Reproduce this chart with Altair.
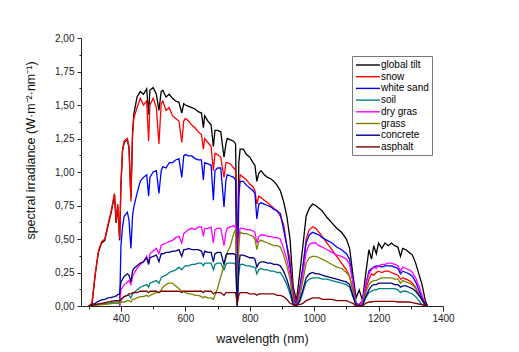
import altair as alt
import pandas as pd

wavelength = [
    300, 310, 320, 330, 340, 350, 360, 370, 380, 385,
    390, 396, 400, 405, 410, 420, 425, 431, 436, 440,
    450, 460, 470, 480, 486, 490, 500, 510, 518, 525,
    530, 540, 550, 560, 570, 580, 589, 595, 600, 610,
    620, 630, 640, 650, 656, 660, 670, 680, 687, 692,
    700, 710, 720, 726, 730, 740, 750, 756, 761, 766,
    770, 780, 790, 800, 810, 816, 822, 828, 835, 845,
    855, 865, 875, 885, 895, 905, 915, 925, 935, 945,
    955, 965, 975, 985, 995, 1005, 1015, 1025, 1040, 1055,
    1070, 1085, 1100, 1110, 1120, 1130, 1140, 1150, 1160, 1170,
    1178, 1185, 1193, 1200, 1210, 1220, 1230, 1240, 1250, 1260,
    1268, 1275, 1285, 1295, 1305, 1315, 1325, 1335, 1345, 1352]

global_tilt = [
    0.0, 0.01, 0.23, 0.4, 0.47, 0.49, 0.6, 0.7, 0.83, 0.62,
    0.75, 0.49, 0.9, 1.16, 1.22, 1.24, 1.18, 0.81, 1.29, 1.43,
    1.56, 1.6, 1.58, 1.62, 1.43, 1.61, 1.63, 1.58, 1.46, 1.6,
    1.61, 1.56, 1.58, 1.55, 1.53, 1.52, 1.44, 1.51, 1.5, 1.49,
    1.48, 1.47, 1.45, 1.44, 1.33, 1.42, 1.38, 1.35, 1.19, 1.31,
    1.31, 1.3, 1.11, 1.21, 1.25, 1.24, 1.23, 1.21, 0.24, 1.07,
    1.17, 1.17, 1.13, 1.11, 1.07, 1.05, 0.93, 0.99, 1.01, 0.98,
    0.96, 0.95, 0.93, 0.9, 0.86, 0.78, 0.67, 0.5, 0.14, 0.04,
    0.24, 0.45, 0.67, 0.73, 0.76, 0.75, 0.73, 0.71, 0.66, 0.62,
    0.58, 0.55, 0.5, 0.43, 0.24, 0.06, 0.12, 0.04, 0.24, 0.42,
    0.35, 0.45, 0.39, 0.47, 0.43, 0.47, 0.45, 0.47, 0.45, 0.44,
    0.37, 0.43, 0.42, 0.4, 0.38, 0.32, 0.24, 0.16, 0.04, 0.0]

snow = [
    0.0, 0.02, 0.24, 0.41, 0.48, 0.5, 0.61, 0.71, 0.84, 0.63,
    0.76, 0.5, 0.91, 1.17, 1.23, 1.25, 1.19, 0.78, 1.27, 1.4,
    1.48, 1.55, 1.5, 1.53, 1.23, 1.5, 1.55, 1.48, 1.21, 1.51,
    1.53, 1.46, 1.48, 1.42, 1.4, 1.38, 1.22, 1.38, 1.4, 1.38,
    1.35, 1.33, 1.3, 1.28, 1.17, 1.25, 1.22, 1.19, 1.01, 1.14,
    1.13, 1.11, 0.96, 1.07, 1.07, 1.06, 1.03, 1.01, 0.29, 0.86,
    0.98, 0.96, 0.94, 0.91, 0.89, 0.86, 0.76, 0.82, 0.81, 0.79,
    0.77, 0.75, 0.73, 0.71, 0.67, 0.61, 0.45, 0.35, 0.09, 0.02,
    0.14, 0.29, 0.5, 0.57, 0.59, 0.58, 0.55, 0.52, 0.47, 0.42,
    0.37, 0.32, 0.27, 0.22, 0.12, 0.01, 0.01, 0.02, 0.12, 0.2,
    0.24, 0.23, 0.25, 0.26, 0.25, 0.26, 0.26, 0.25, 0.24, 0.23,
    0.2, 0.21, 0.2, 0.19, 0.17, 0.14, 0.09, 0.04, 0.01, 0.0]

white_sand = [
    None, None, None, None, None, None, None, None, None, None,
    None, 0.0, 0.45, 0.59, 0.67, 0.7, 0.64, 0.43, 0.67, 0.74,
    0.84, 0.93, 0.96, 0.98, 0.82, 0.96, 1.0, 1.01, 0.84, 1.01,
    1.04, 1.03, 1.07, 1.07, 1.09, 1.1, 0.96, 1.12, 1.13, 1.12,
    1.12, 1.1, 1.09, 1.09, 0.94, 1.07, 1.06, 1.05, 0.79, 1.01,
    1.03, 1.03, 0.74, 0.94, 0.98, 0.97, 0.96, 0.94, 0.01, 0.81,
    0.93, 0.93, 0.9, 0.88, 0.86, 0.84, 0.65, 0.76, 0.77, 0.76,
    0.75, 0.74, 0.72, 0.71, 0.69, 0.57, 0.45, 0.29, 0.06, 0.01,
    0.12, 0.29, 0.47, 0.53, 0.55, 0.54, 0.53, 0.51, 0.49, 0.47,
    0.44, 0.42, 0.39, 0.35, 0.19, 0.02, 0.01, 0.04, 0.16, 0.26,
    0.28, 0.29, 0.3, 0.3, 0.29, 0.3, 0.3, 0.3, 0.29, 0.28,
    0.24, 0.26, 0.25, 0.24, 0.22, 0.18, 0.12, 0.06, 0.02, 0.0]

soil = [
    0.0, 0.005, 0.01, 0.01, 0.015, 0.02, 0.02, 0.025, 0.03, 0.03,
    0.03, 0.03, 0.04, 0.06, 0.07, 0.08, 0.08, 0.06, 0.09, 0.1,
    0.12, 0.14, 0.15, 0.16, 0.14, 0.17, 0.18, 0.19, 0.17, 0.21,
    0.22, 0.23, 0.25, 0.26, 0.27, 0.29, 0.27, 0.29, 0.3, 0.3,
    0.31, 0.31, 0.32, 0.32, 0.3, 0.32, 0.32, 0.32, 0.27, 0.31,
    0.32, 0.32, 0.27, 0.31, 0.32, 0.32, 0.32, 0.31, 0.0, 0.24,
    0.31, 0.31, 0.3, 0.3, 0.29, 0.29, 0.24, 0.27, 0.28, 0.27,
    0.27, 0.26, 0.26, 0.25, 0.25, 0.21, 0.16, 0.09, 0.01, 0.0,
    0.03, 0.1, 0.18, 0.2, 0.21, 0.21, 0.21, 0.2, 0.2, 0.19,
    0.18, 0.17, 0.16, 0.14, 0.07, 0.01, 0.0, 0.01, 0.06, 0.1,
    0.11, 0.12, 0.12, 0.13, 0.13, 0.13, 0.13, 0.13, 0.13, 0.12,
    0.1, 0.11, 0.11, 0.1, 0.09, 0.07, 0.04, 0.01, 0.0, 0.0]

dry_gras = [
    None, None, None, None, None, None, None, None, None, None,
    None, 0.0, 0.12, 0.14, 0.16, 0.18, 0.19, 0.16, 0.22, 0.24,
    0.28, 0.31, 0.33, 0.37, 0.32, 0.39, 0.41, 0.43, 0.39, 0.45,
    0.46, 0.47, 0.48, 0.49, 0.51, 0.52, 0.47, 0.54, 0.55, 0.57,
    0.58, 0.57, 0.59, 0.59, 0.52, 0.58, 0.58, 0.59, 0.47, 0.57,
    0.58, 0.58, 0.45, 0.55, 0.58, 0.59, 0.6, 0.59, 0.04, 0.5,
    0.58, 0.58, 0.57, 0.57, 0.56, 0.55, 0.47, 0.52, 0.53, 0.53,
    0.52, 0.52, 0.51, 0.51, 0.5, 0.43, 0.35, 0.24, 0.04, 0.0,
    0.1, 0.24, 0.4, 0.46, 0.47, 0.47, 0.45, 0.44, 0.42, 0.4,
    0.38, 0.37, 0.35, 0.31, 0.18, 0.01, 0.0, 0.04, 0.16, 0.24,
    0.27, 0.29, 0.28, 0.3, 0.31, 0.31, 0.32, 0.32, 0.31, 0.3,
    0.26, 0.29, 0.28, 0.27, 0.25, 0.21, 0.15, 0.08, 0.01, 0.0]

grass = [
    0.0, 0.002, 0.005, 0.008, 0.01, 0.012, 0.015, 0.018, 0.02, 0.02,
    0.02, 0.02, 0.03, 0.03, 0.03, 0.04, 0.04, 0.03, 0.05, 0.05,
    0.06, 0.07, 0.07, 0.08, 0.07, 0.08, 0.09, 0.1, 0.1, 0.12,
    0.14, 0.16, 0.17, 0.17, 0.15, 0.13, 0.11, 0.11, 0.1, 0.09,
    0.09, 0.08, 0.08, 0.07, 0.06, 0.07, 0.06, 0.06, 0.05, 0.08,
    0.13, 0.22, 0.3, 0.36, 0.4, 0.45, 0.54, 0.57, 0.0, 0.45,
    0.55, 0.54, 0.54, 0.53, 0.52, 0.5, 0.42, 0.48, 0.49, 0.48,
    0.47, 0.46, 0.45, 0.45, 0.44, 0.38, 0.3, 0.2, 0.03, 0.0,
    0.07, 0.19, 0.32, 0.36, 0.37, 0.37, 0.36, 0.35, 0.33, 0.31,
    0.29, 0.28, 0.25, 0.22, 0.12, 0.0, 0.0, 0.01, 0.1, 0.16,
    0.18, 0.19, 0.19, 0.2, 0.21, 0.21, 0.21, 0.21, 0.2, 0.2,
    0.17, 0.19, 0.18, 0.17, 0.16, 0.13, 0.09, 0.04, 0.0, 0.0]

concrete = [
    0.0, 0.01, 0.02, 0.035, 0.045, 0.05, 0.06, 0.065, 0.07, 0.075,
    0.085, 0.09, 0.18, 0.2, 0.22, 0.24, 0.23, 0.18, 0.26, 0.28,
    0.3, 0.32, 0.33, 0.36, 0.31, 0.36, 0.37, 0.38, 0.33, 0.39,
    0.39, 0.4, 0.4, 0.41, 0.41, 0.42, 0.37, 0.42, 0.42, 0.43,
    0.42, 0.42, 0.42, 0.41, 0.37, 0.41, 0.4, 0.4, 0.33, 0.39,
    0.4, 0.4, 0.31, 0.38, 0.39, 0.39, 0.39, 0.38, 0.0, 0.3,
    0.38, 0.38, 0.37, 0.36, 0.36, 0.35, 0.29, 0.32, 0.33, 0.33,
    0.32, 0.32, 0.31, 0.31, 0.3, 0.26, 0.2, 0.12, 0.01, 0.0,
    0.04, 0.12, 0.21, 0.24, 0.25, 0.24, 0.24, 0.23, 0.22, 0.21,
    0.2, 0.19, 0.18, 0.16, 0.08, 0.0, 0.0, 0.0, 0.07, 0.12,
    0.15, 0.16, 0.16, 0.17, 0.17, 0.17, 0.17, 0.17, 0.16, 0.16,
    0.14, 0.15, 0.15, 0.14, 0.13, 0.11, 0.08, 0.05, 0.01, 0.0]

asphalt = [
    0.0, 0.005, 0.01, 0.015, 0.02, 0.025, 0.03, 0.035, 0.04, 0.04,
    0.04, 0.04, 0.05, 0.06, 0.07, 0.08, 0.09, 0.09, 0.1, 0.1,
    0.1, 0.11, 0.11, 0.11, 0.1, 0.11, 0.11, 0.11, 0.1, 0.11,
    0.11, 0.11, 0.11, 0.11, 0.11, 0.11, 0.1, 0.11, 0.11, 0.11,
    0.11, 0.11, 0.11, 0.11, 0.1, 0.11, 0.11, 0.11, 0.09, 0.1,
    0.1, 0.1, 0.08, 0.1, 0.1, 0.1, 0.1, 0.1, 0.02, 0.08,
    0.1, 0.1, 0.1, 0.09, 0.09, 0.09, 0.08, 0.09, 0.09, 0.09,
    0.09, 0.09, 0.09, 0.08, 0.08, 0.07, 0.05, 0.02, 0.01, 0.01,
    0.01, 0.02, 0.04, 0.05, 0.06, 0.06, 0.06, 0.05, 0.05, 0.05,
    0.04, 0.04, 0.04, 0.03, 0.02, 0.0, 0.0, 0.0, 0.02, 0.03,
    0.03, 0.035, 0.035, 0.035, 0.035, 0.035, 0.035, 0.035, 0.035, 0.03,
    0.03, 0.03, 0.03, 0.03, 0.025, 0.02, 0.015, 0.01, 0.005, 0.0]

series_names = ["global tilt", "snow", "white sand", "soil",
                "dry gras", "grass", "concrete", "asphalt"]
series_colors = ["#000000", "#ff0000", "#0000ff", "#008080",
                 "#ff00ff", "#808000", "#000080", "#800000"]
series_values = [global_tilt, snow, white_sand, soil,
                 dry_gras, grass, concrete, asphalt]

x_ticks = list(range(300, 1401, 100))
y_ticks = [i * 0.125 for i in range(17)]

for vals in series_values:
    assert len(vals) == len(wavelength), len(vals)

rows = []
for name, vals in zip(series_names, series_values):
    for w, v in zip(wavelength, vals):
        if v is not None:
            rows.append({"wavelength": w, "irradiance": v, "series": name})
df = pd.DataFrame(rows)

FONT = "Liberation Sans"
AX = "#222222"

x_axis = alt.Axis(
    values=x_ticks,
    labelExpr="datum.value % 200 === 0 ? datum.value : ''",
    tickSize={"condition": {"test": "datum.value % 200 === 0", "value": 5}, "value": 3},
    title="wavelength (nm)",
    titleFont=FONT, titleFontSize=12.5, titleFontWeight="normal", titleColor="#111111",
    titlePadding=9,
    labelFont=FONT, labelFontSize=10, labelColor=AX, labelPadding=2,
    labelFlush=False, labelOverlap=False,
    domainColor=AX, tickColor=AX, grid=False,
)

y_axis = alt.Axis(
    values=y_ticks,
    labelExpr="abs(datum.value * 4 - round(datum.value * 4)) < 0.001 ? replace(format(datum.value, '.2f'), '.', ',') : ''",
    tickSize={"condition": {"test": "abs(datum.value * 4 - round(datum.value * 4)) < 0.001", "value": 4}, "value": 2},
    title="spectral irradiance (W·m⁻²·nm⁻¹)",
    titleFont=FONT, titleFontSize=12.5, titleFontWeight="normal", titleColor="#111111",
    titleAngle=270, titleAlign="center", titleBaseline="middle",
    titleX=-51, titleY=112,
    labelFont=FONT, labelFontSize=10, labelColor=AX, labelPadding=3,
    labelFlush=False, labelOverlap=False,
    domainColor=AX, tickColor=AX, grid=False,
)

legend = alt.Legend(
    title=None, orient="none", legendX=271, legendY=18,
    symbolType="M-1,0H3.8", symbolSize=100, symbolStrokeWidth=1.4,
    labelFont=FONT, labelFontSize=10, labelColor="#000000",
    labelOffset=14, padding=3, rowPadding=0.7,
    strokeColor="#777777", fillColor="white", labelLimit=200,
)

chart = alt.Chart(df).mark_line(strokeWidth=1.3, clip=True).encode(
    x=alt.X("wavelength:Q", scale=alt.Scale(domain=[276, 1400], nice=False, zero=False), axis=x_axis),
    y=alt.Y("irradiance:Q", scale=alt.Scale(domain=[0, 2], nice=False, zero=True), axis=y_axis),
    color=alt.Color("series:N", scale=alt.Scale(domain=series_names, range=series_colors), legend=legend),
).properties(
    width=362, height=268,
    padding={"left": 81, "top": 38, "right": 76, "bottom": 46},
    autosize="none",
    background="white",
).configure_view(stroke=None)

chart.save("out.html", embed_options={"renderer": "svg", "actions": False})
